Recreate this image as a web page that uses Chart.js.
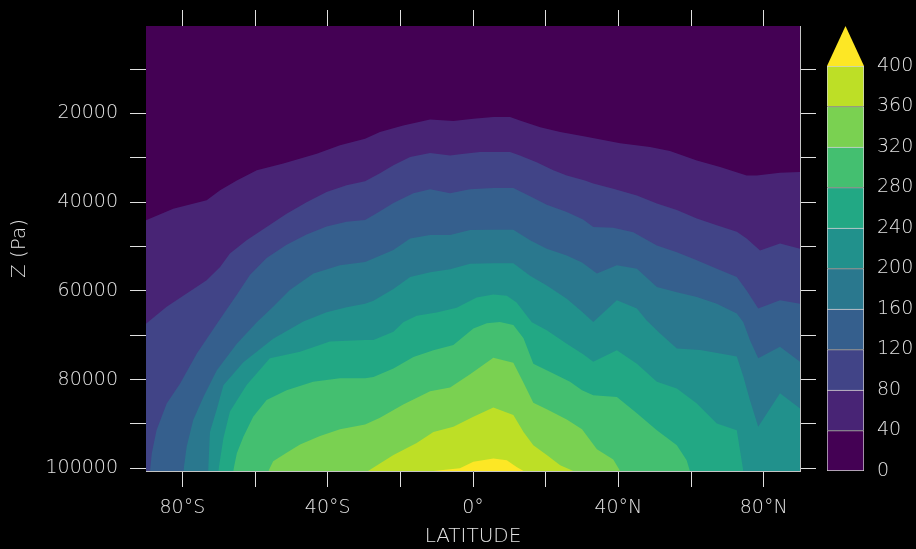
<!DOCTYPE html>
<html>
<head>
<meta charset="utf-8">
<script src="https://cdn.jsdelivr.net/npm/chart.js@4.4.1/dist/chart.umd.min.js"></script>
<style>
  html, body { margin: 0; padding: 0; background: #000; }
  #wrap { position: relative; width: 916px; height: 549px; }
  #plot { position: absolute; left: 0; top: 0; }
  #bar { position: absolute; left: 800px; top: 0; }
</style>
</head>
<body>
<div id="wrap">
  <canvas id="plot" width="916" height="549"></canvas>
  <canvas id="bar" width="116" height="549"></canvas>
</div>
<script>
// contour levels and viridis band colours (band i lies between levels[i] and levels[i+1])
const levels = [0, 40, 80, 120, 160, 200, 240, 280, 320, 360, 400];
const bandColors = ['#440154', '#482475', '#414487', '#355f8d', '#2a788e', '#21918c',
  '#22a884', '#44bf70', '#7ad151', '#bddf26', '#fde725'];

// pressure range of the section (Pa)
const pTop = 300;
const pBottom = 100600;

// each contour: [latitude, pressure] along the line
const c40 = [[-90, 44100], [-82.5, 41500], [-73.3, 39600], [-69.6, 37300], [-65, 35100], [-59.5, 32800],
  [-52.2, 31300], [-43, 29100], [-36.6, 27200], [-29.7, 25700], [-25.6, 24200], [-19.2, 22700],
  [-11.8, 21400], [-5.4, 21700], [0.1, 21200], [5.6, 20800], [10.2, 20800], [12.9, 21600],
  [18.5, 23100], [24, 24200], [30.8, 25200], [40.5, 26700], [48.7, 27600], [54.2, 28500],
  [61.6, 30600], [68, 32100], [75.3, 34000], [78.1, 34000], [84.5, 33400], [90, 33200]];

const c80 = [[-90, 67400], [-84.3, 63600], [-78.8, 60600], [-73.3, 57600], [-69.6, 54600], [-66.9, 51600],
  [-62.3, 48600], [-56.8, 45600], [-51.3, 42600], [-45.8, 40000], [-40.3, 37700], [-34.8, 36200],
  [-29.7, 35300], [-25.6, 33500], [-21.9, 31700], [-17.3, 29800], [-11.8, 28900], [-6.3, 29500],
  [-3.6, 29200], [1.9, 28700], [10.2, 28700], [12.9, 29500], [17.5, 31000], [22.1, 32800],
  [25.8, 34000], [30.8, 35100], [33.1, 35800], [38.6, 37000], [45.1, 38500], [50.6, 40300],
  [56.1, 41800], [61.6, 43700], [67.1, 45200], [72.6, 46700], [75.3, 48200], [79, 50900],
  [84.5, 49300], [90, 50500]];

const c120 = [[-88.9, pBottom], [-88.4, 96600], [-87.1, 91400], [-84.3, 85400], [-80.6, 80900],
  [-76, 74100], [-70.2, 67100], [-67.8, 64200], [-65, 60900], [-61.4, 56400], [-56.8, 52600],
  [-51.3, 49600], [-45.8, 47300], [-40.3, 45500], [-34.8, 44400], [-29.7, 44000], [-26.5, 42500],
  [-21.9, 40200], [-16.4, 38000], [-11.8, 37100], [-6.3, 38000], [-0.8, 37100], [5.6, 36800],
  [11.1, 36800], [15.7, 38700], [20.3, 40600], [25.8, 42200], [30.3, 43900], [33.1, 45600],
  [38.6, 45800], [44.1, 46800], [50.6, 49800], [56.1, 51300], [61.6, 53100], [67.1, 55000],
  [72.6, 56900], [75.3, 59900], [78.5, 64000], [84.5, 62100], [90, 62900]];

const c160 = [[-79.7, pBottom], [-78.8, 95100], [-77, 89100], [-74.2, 83900], [-70.5, 77900],
  [-65, 71900], [-59.5, 67100], [-55, 63600], [-50.4, 59800], [-43.9, 56100], [-36.6, 54200],
  [-29.7, 53500], [-27.4, 52700], [-21.9, 50800], [-17.3, 48200], [-11.8, 47400], [-6.3, 47400],
  [-0.8, 46300], [5.6, 46200], [11.1, 46200], [15.7, 48600], [20.3, 50500], [25.8, 52000],
  [30, 53600], [34.1, 56100], [39.6, 54200], [45.1, 55000], [50.6, 59100], [56.1, 60300],
  [61.6, 61400], [67.1, 62900], [72.6, 65100], [74.4, 67100], [76.2, 71100], [78.5, 75200],
  [84.5, 72600], [90, 76000]];

const c200 = [[-72.9, pBottom], [-72.4, 91800], [-70.5, 86600], [-68.7, 81300], [-63.2, 76100],
  [-55, 70800], [-46.7, 66900], [-40.3, 64800], [-34.8, 63700], [-29.7, 62900], [-27.4, 62200],
  [-21.9, 59600], [-17.3, 56900], [-11.8, 55800], [-6.3, 55100], [-0.8, 53900], [5.6, 53800],
  [11.1, 53800], [15.7, 56600], [20.3, 58800], [25.8, 61800], [30, 64700], [33.1, 67000],
  [39.6, 62100], [45.1, 64000], [47.8, 66700], [51.5, 69600], [56.1, 73000], [62.5, 73300],
  [68, 74100], [72.6, 74800], [74.4, 79300], [76.2, 84600], [78.5, 90600], [84.5, 83100],
  [90, 86500]];

const c240 = [[-70.1, pBottom], [-68.7, 93200], [-66.9, 87200], [-62.3, 81200], [-55.9, 75200],
  [-47.6, 73700], [-39.4, 71400], [-29.7, 71100], [-27.4, 71100], [-21.9, 69200], [-19.2, 67100],
  [-15.5, 65600], [-10, 64900], [-4.5, 63800], [1, 61500], [5.6, 60800], [9.3, 61100],
  [12, 62600], [14.8, 65600], [16.2, 67100], [20.3, 68900], [25.8, 71900], [30.3, 74300],
  [33.1, 76000], [39.6, 73400], [45.1, 76400], [50.6, 80500], [56.1, 82000], [61.6, 85400],
  [67.1, 89900], [72.6, 91400], [74.4, pBottom]];

const c280 = [[-66, pBottom], [-65, 96600], [-63.2, 92900], [-60.5, 88400], [-56.8, 84600],
  [-51.3, 82400], [-44, 80500], [-36.6, 79700], [-29.7, 79700], [-27.4, 79400], [-21.9, 77500],
  [-16.4, 74900], [-10.9, 73400], [-5.4, 72200], [0.1, 68500], [3.8, 67300], [7.4, 67000],
  [11.1, 67700], [13.9, 70700], [16.6, 76400], [22.1, 78600], [26.7, 80500], [30, 82400],
  [33.1, 83500], [39.6, 83900], [45.1, 87600], [50.6, 91400], [56.1, 94800], [58.8, 98200],
  [59.7, pBottom]];

const c320 = [[-56.3, pBottom], [-55, 98400], [-51.3, 96500], [-47.6, 94600], [-42.1, 92700],
  [-36.6, 91200], [-29.7, 90100], [-25.6, 88600], [-19.2, 85600], [-11.8, 82600], [-6.3, 81800],
  [-0.8, 78800], [5.6, 75100], [11.1, 76200], [13.9, 80700], [16.6, 85200], [20.3, 86700],
  [25.8, 89000], [30, 91200], [34.1, 95700], [38.6, 98000], [40.5, pBottom]];

const c360 = [[-28.9, pBottom], [-21.9, 97000], [-15.5, 94300], [-10.9, 91800], [-5.4, 90600],
  [0.1, 88400], [5.6, 86300], [11.1, 88000], [13.9, 91800], [16.6, 94800], [20.3, 97000],
  [24, 99300], [27.6, pBottom]];

const c400 = [[-10.9, pBottom], [-3.6, 100000], [0.1, 98500], [5.6, 97800], [9.3, 98200],
  [12, 99700], [13.9, pBottom]];

const contours = [c40, c80, c120, c160, c200, c240, c280, c320, c360, c400];

// axis ticks: marks at every value, labels only on the labelled subset
const latMarks = [-80, -60, -40, -20, 0, 20, 40, 60, 80];
const latTicks = [-80, -40, 0, 40, 80];
const pMarks = [10000, 20000, 30000, 40000, 50000, 60000, 70000, 80000, 90000, 100000];
const pTicks = [20000, 40000, 60000, 80000, 100000];

const txt = '#e2e2e2';
const fnt = { family: 'DejaVu Sans', size: 19, weight: 200 };

function latLabel(v) {
  if (v === 0) return '0°';
  return Math.abs(v) + '°' + (v < 0 ? 'S' : 'N');
}

function setTicks(values) {
  return s => { s.ticks = values.map(v => ({ value: v })); };
}

// lowest band fills the whole plot area
const areaBg = {
  id: 'areaBg',
  beforeDatasetsDraw(chart) {
    const { ctx, chartArea: a } = chart;
    ctx.save();
    ctx.fillStyle = bandColors[0];
    ctx.fillRect(a.left, a.top, a.width, a.height);
    ctx.restore();
  }
};

const datasets = contours.map((pts, i) => ({
  data: pts.map(([lat, p]) => ({ x: lat, y: p })),
  backgroundColor: bandColors[i + 1],
  borderColor: 'transparent',
  borderWidth: 0,
  pointRadius: 0,
  tension: 0,
  fill: { value: pBottom },
  order: contours.length - i
}));

const tickGrid = { drawOnChartArea: false, drawTicks: true, tickLength: 16, color: '#e0e0e0', lineWidth: 1 };
const frame = { display: true, color: '#c4c4c4', width: 1 };

new Chart(document.getElementById('plot'), {
  type: 'line',
  data: { datasets },
  options: {
    responsive: false,
    animation: false,
    events: [],
    layout: { padding: 0 },
    plugins: { legend: { display: false }, tooltip: { enabled: false } },
    scales: {
      x: {
        type: 'linear', position: 'bottom', min: -90, max: 90, z: 1,
        grid: tickGrid, border: frame,
        afterBuildTicks: setTicks(latMarks),
        ticks: {
          autoSkip: false, maxRotation: 0,
          color: txt, font: fnt, padding: 10,
          callback: v => latTicks.includes(v) ? latLabel(v) : ''
        },
        title: { display: true, text: 'LATITUDE', color: txt, font: { ...fnt, size: 20 }, padding: { top: 0, bottom: 0 } },
        afterFit(s) { s.height = 78; }
      },
      x2: {
        type: 'linear', position: 'top', min: -90, max: 90, z: 1,
        grid: tickGrid, border: frame,
        afterBuildTicks: setTicks(latMarks),
        ticks: { autoSkip: false, display: false },
        afterFit(s) { s.height = 26; }
      },
      y: {
        type: 'linear', position: 'left', reverse: true, min: pTop, max: pBottom, z: 1,
        grid: tickGrid, border: frame,
        afterBuildTicks: setTicks(pMarks),
        ticks: {
          autoSkip: false,
          color: txt, font: fnt, padding: 12,
          callback: v => pTicks.includes(v) ? String(v) : ''
        },
        title: { display: true, text: 'Z (Pa)', color: txt, font: { ...fnt, size: 20 }, padding: { top: 8, bottom: 0 } },
        afterFit(s) { s.width = 146; }
      },
      y2: {
        type: 'linear', position: 'right', reverse: true, min: pTop, max: pBottom, z: 1,
        grid: tickGrid, border: frame,
        afterBuildTicks: setTicks(pMarks),
        ticks: { autoSkip: false, display: false },
        afterFit(s) { s.width = 116; }
      }
    }
  },
  plugins: [areaBg]
});

// colour bar: one floating bar per band, triangle for values above the top level
const overTop = {
  id: 'overTop',
  afterDatasetsDraw(chart) {
    const { ctx, chartArea: a, scales: { y } } = chart;
    const base = y.getPixelForValue(levels[levels.length - 1]);
    ctx.save();
    ctx.beginPath();
    ctx.moveTo(a.left, base);
    ctx.lineTo((a.left + a.right) / 2, base - 40);
    ctx.lineTo(a.right, base);
    ctx.closePath();
    ctx.fillStyle = bandColors[bandColors.length - 1];
    ctx.fill();
    ctx.restore();
  }
};

new Chart(document.getElementById('bar'), {
  type: 'bar',
  data: {
    labels: [''],
    datasets: levels.slice(0, -1).map((lo, i) => ({
      data: [[lo, levels[i + 1]]],
      backgroundColor: bandColors[i],
      borderColor: '#d4d4d4',
      borderWidth: { top: 1, left: 1, right: 1, bottom: i === 0 ? 1 : 0 },
      borderSkipped: false,
      grouped: false,
      barPercentage: 1,
      categoryPercentage: 1
    }))
  },
  options: {
    responsive: false,
    animation: false,
    events: [],
    layout: { padding: { left: 27, top: 66, bottom: 78, right: 0 } },
    plugins: { legend: { display: false }, tooltip: { enabled: false } },
    scales: {
      x: { display: false },
      y: {
        position: 'right', min: 0, max: 400,
        grid: { display: false, drawTicks: false },
        border: { display: false },
        ticks: { stepSize: 40, color: txt, font: fnt, padding: 13 },
        afterFit(s) { s.width = 52; }
      }
    }
  },
  plugins: [overTop]
});
</script>
</body>
</html>
